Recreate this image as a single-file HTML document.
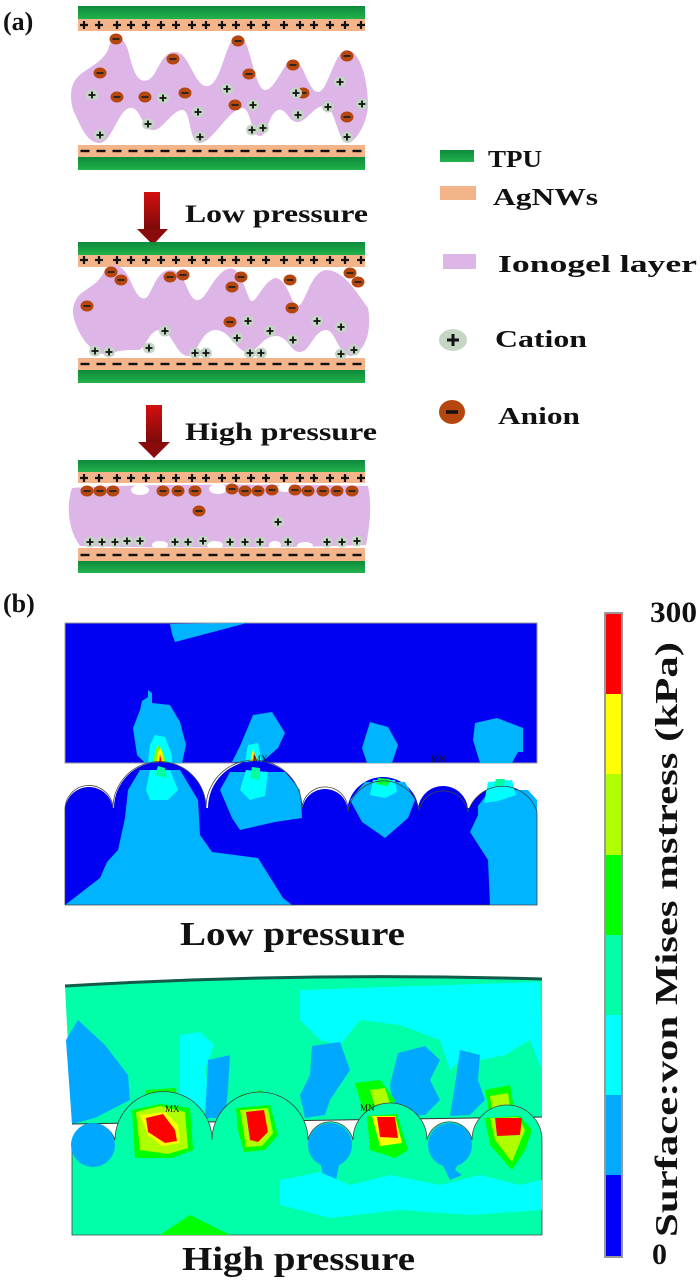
<!DOCTYPE html>
<html><head><meta charset="utf-8"><style>
html,body{margin:0;padding:0;background:#fff;}
svg{display:block;}
text{font-family:"Liberation Serif",serif;font-weight:bold;fill:#111;}
</style></head><body>
<svg width="700" height="1282" viewBox="0 0 700 1282" xmlns="http://www.w3.org/2000/svg">
<defs>
<linearGradient id="tpu" x1="0" y1="0" x2="0" y2="1"><stop offset="0" stop-color="#0d8a3a"/><stop offset="1" stop-color="#22b24c"/></linearGradient>
<linearGradient id="arr" x1="0" y1="0" x2="0" y2="1"><stop offset="0" stop-color="#d40f0f"/><stop offset="1" stop-color="#7a0a0a"/></linearGradient>
<g id="cat"><ellipse rx="6" ry="5.5" fill="#c5d6c6"/><path d="M-3.5 0H3.5M0 -3.5V3.5" stroke="#111" stroke-width="1.8"/></g>
<g id="an"><ellipse rx="6.5" ry="5.5" fill="#b5470e"/><path d="M-3.5 0H3.5" stroke="#222" stroke-width="1.8"/></g>
<g id="plus"><path d="M-4 0H4M0 -4V4" stroke="#111" stroke-width="2.2"/></g>
<g id="minus"><path d="M-4.5 0H4.5" stroke="#111" stroke-width="2.4"/></g>
<clipPath id="clipLow"><path d="M65 623H537V763H65Z"/></clipPath>
</defs>

<text x="3" y="30" font-size="26">(a)</text>

<!-- Panel 1 -->
<rect x="78" y="6" width="287" height="13" fill="url(#tpu)"/>
<rect x="78" y="19" width="287" height="12" fill="#f4b48a"/>
<path d="M74 82 C80 70 100 66 108 50 C112 34 122 32 128 50 C133 70 137 84 148 80 C158 76 160 52 175 52 C190 52 194 88 208 86 C222 84 226 36 238 35 C250 34 254 90 265 90 C276 90 284 60 293 60 C304 60 308 92 318 92 C328 92 334 52 346 50 C362 50 368 86 368 104 C368 122 356 142 348 143 C338 144 336 110 326 106 C314 104 306 124 296 122 C288 120 286 108 278 110 C268 114 268 136 260 136 C250 136 252 108 242 108 C228 110 212 143 200 143 C188 143 192 110 182 110 C172 110 162 132 152 130 C142 128 140 106 130 108 C118 110 112 142 100 143 C86 143 80 124 74 112 C70 102 70 90 74 82Z" fill="#ddb5e6"/>
<rect x="78" y="145" width="287" height="12" fill="#f4b48a"/>
<rect x="78" y="157" width="287" height="13" fill="url(#tpu)"/>
<g id="plusRow1">
<use href="#plus" x="84" y="25"/><use href="#plus" x="99" y="25"/><use href="#plus" x="117" y="25"/><use href="#plus" x="131" y="25"/><use href="#plus" x="146" y="25"/><use href="#plus" x="176" y="25"/><use href="#plus" x="192" y="25"/><use href="#plus" x="206" y="25"/><use href="#plus" x="222" y="25"/><use href="#plus" x="236" y="25"/><use href="#plus" x="251" y="25"/><use href="#plus" x="266" y="25"/><use href="#plus" x="284" y="25"/><use href="#plus" x="300" y="25"/><use href="#plus" x="314" y="25"/><use href="#plus" x="330" y="25"/><use href="#plus" x="345" y="25"/><use href="#plus" x="361" y="25"/><use href="#plus" x="161" y="25"/>
</g>
<g id="minusRow1">
<use href="#minus" x="85" y="151"/><use href="#minus" x="101" y="151"/><use href="#minus" x="117" y="151"/><use href="#minus" x="133" y="151"/><use href="#minus" x="149" y="151"/><use href="#minus" x="165" y="151"/><use href="#minus" x="181" y="151"/><use href="#minus" x="197" y="151"/><use href="#minus" x="213" y="151"/><use href="#minus" x="229" y="151"/><use href="#minus" x="245" y="151"/><use href="#minus" x="261" y="151"/><use href="#minus" x="277" y="151"/><use href="#minus" x="293" y="151"/><use href="#minus" x="309" y="151"/><use href="#minus" x="325" y="151"/><use href="#minus" x="341" y="151"/><use href="#minus" x="357" y="151"/>
</g>
<use href="#an" x="116" y="39"/><use href="#an" x="100" y="73"/><use href="#an" x="117" y="97"/><use href="#an" x="145" y="97"/><use href="#an" x="173" y="59"/><use href="#an" x="185" y="93"/><use href="#an" x="238" y="41"/><use href="#an" x="249" y="74"/><use href="#an" x="235" y="105"/><use href="#an" x="293" y="65"/><use href="#an" x="303" y="93"/><use href="#an" x="347" y="56"/><use href="#an" x="347" y="117"/>
<use href="#cat" x="92" y="95"/><use href="#cat" x="163" y="98"/><use href="#cat" x="198" y="112"/><use href="#cat" x="227" y="89"/><use href="#cat" x="253" y="105"/><use href="#cat" x="296" y="93"/><use href="#cat" x="298" y="115"/><use href="#cat" x="340" y="82"/><use href="#cat" x="328" y="107"/><use href="#cat" x="362" y="104"/><use href="#cat" x="100" y="135"/><use href="#cat" x="200" y="137"/><use href="#cat" x="252" y="130"/><use href="#cat" x="263" y="128"/><use href="#cat" x="347" y="137"/><use href="#cat" x="148" y="124"/>

<!-- Arrow 1 -->
<rect x="144" y="192" width="16" height="38" fill="url(#arr)"/>
<path d="M137 229H168L153 245Z" fill="#8a0b0b"/>
<text x="185" y="222" font-size="25" textLength="183" lengthAdjust="spacingAndGlyphs">Low pressure</text>

<!-- Panel 2 -->
<rect x="78" y="242" width="287" height="13" fill="url(#tpu)"/>
<rect x="78" y="255" width="287" height="12" fill="#f4b48a"/>
<path d="M76 300 C80 290 96 288 104 272 C110 262 122 262 130 280 C136 294 140 300 146 298 C152 294 156 270 170 270 C186 270 186 296 196 300 C206 302 210 280 225 270 C240 262 244 288 250 300 C256 306 262 282 275 278 C288 278 292 308 298 306 C306 304 310 272 326 270 C344 270 356 292 368 308 C372 330 366 350 352 356 C338 356 336 330 326 330 C314 330 310 352 300 352 C290 352 288 336 276 336 C262 336 258 352 248 352 C236 352 230 330 216 330 C200 330 198 356 188 356 C176 356 172 330 160 330 C148 330 146 350 138 350 C126 350 120 350 108 354 C94 356 82 340 76 325 C72 315 72 306 76 300Z" fill="#ddb5e6"/>
<rect x="78" y="358" width="287" height="12" fill="#f4b48a"/>
<rect x="78" y="370" width="287" height="13" fill="url(#tpu)"/>
<use href="#plusRow1" y="235"/>
<use href="#minusRow1" y="213"/>
<use href="#an" x="111" y="272"/><use href="#an" x="121" y="280"/><use href="#an" x="170" y="277"/><use href="#an" x="183" y="275"/><use href="#an" x="241" y="277"/><use href="#an" x="232" y="287"/><use href="#an" x="290" y="280"/><use href="#an" x="292" y="308"/><use href="#an" x="87" y="306"/><use href="#an" x="230" y="322"/><use href="#an" x="350" y="273"/><use href="#an" x="358" y="282"/>
<use href="#cat" x="95" y="351"/><use href="#cat" x="109" y="352"/><use href="#cat" x="149" y="348"/><use href="#cat" x="165" y="331"/><use href="#cat" x="195" y="353"/><use href="#cat" x="206" y="353"/><use href="#cat" x="248" y="321"/><use href="#cat" x="237" y="338"/><use href="#cat" x="270" y="331"/><use href="#cat" x="293" y="340"/><use href="#cat" x="317" y="321"/><use href="#cat" x="341" y="327"/><use href="#cat" x="341" y="354"/><use href="#cat" x="354" y="350"/><use href="#cat" x="250" y="353"/><use href="#cat" x="261" y="353"/>

<!-- Arrow 2 -->
<rect x="146" y="405" width="16" height="38" fill="url(#arr)"/>
<path d="M138 442H170L154 458Z" fill="#8a0b0b"/>
<text x="185" y="440" font-size="25" textLength="192" lengthAdjust="spacingAndGlyphs">High pressure</text>

<!-- Panel 3 -->
<rect x="78" y="460" width="287" height="12" fill="url(#tpu)"/>
<rect x="78" y="472" width="287" height="11" fill="#f4b48a"/>
<path d="M72 488 C120 484 300 484 368 486 C372 505 370 525 366 545 C300 548 140 548 80 546 C68 530 66 505 72 488Z" fill="#ddb5e6"/>
<ellipse cx="140" cy="490" rx="9" ry="5" fill="#fff"/><ellipse cx="218" cy="489" rx="9" ry="5" fill="#fff"/><ellipse cx="285" cy="488" rx="8" ry="4" fill="#fff"/>
<ellipse cx="160" cy="545" rx="8" ry="4" fill="#fff"/><ellipse cx="215" cy="545" rx="8" ry="4" fill="#fff"/><ellipse cx="275" cy="545" rx="6" ry="4" fill="#fff"/><ellipse cx="305" cy="546" rx="8" ry="4" fill="#fff"/>
<rect x="78" y="548" width="287" height="13" fill="#f4b48a"/>
<rect x="78" y="561" width="287" height="12" fill="url(#tpu)"/>
<use href="#plusRow1" y="453"/>
<use href="#minusRow1" y="404"/>
<use href="#an" x="87" y="491"/><use href="#an" x="100" y="491"/><use href="#an" x="113" y="491"/><use href="#an" x="163" y="491"/><use href="#an" x="178" y="491"/><use href="#an" x="195" y="491"/><use href="#an" x="232" y="489"/><use href="#an" x="245" y="491"/><use href="#an" x="258" y="491"/><use href="#an" x="272" y="490"/><use href="#an" x="295" y="490"/><use href="#an" x="308" y="491"/><use href="#an" x="323" y="491"/><use href="#an" x="337" y="491"/><use href="#an" x="352" y="491"/><use href="#an" x="199" y="511"/>
<use href="#cat" x="278" y="522"/>
<use href="#cat" x="90" y="542"/><use href="#cat" x="102" y="542"/><use href="#cat" x="115" y="542"/><use href="#cat" x="127" y="541"/><use href="#cat" x="140" y="541"/><use href="#cat" x="175" y="542"/><use href="#cat" x="188" y="542"/><use href="#cat" x="203" y="541"/><use href="#cat" x="230" y="542"/><use href="#cat" x="245" y="542"/><use href="#cat" x="260" y="542"/><use href="#cat" x="288" y="542"/><use href="#cat" x="327" y="542"/><use href="#cat" x="342" y="542"/><use href="#cat" x="357" y="541"/>

<!-- Legend -->
<rect x="440" y="150" width="34" height="12" fill="url(#tpu)"/>
<text x="488" y="167" font-size="24" textLength="54" lengthAdjust="spacingAndGlyphs">TPU</text>
<rect x="440" y="186" width="36" height="14" fill="#f4b48a"/>
<text x="493" y="205" font-size="24" textLength="105" lengthAdjust="spacingAndGlyphs">AgNWs</text>
<rect x="443" y="254" width="33" height="15" fill="#ddb5e6"/>
<text x="498" y="272" font-size="24" textLength="199" lengthAdjust="spacingAndGlyphs">Ionogel layer</text>
<ellipse cx="453" cy="340" rx="14" ry="11" fill="#c5d6c6"/><path d="M447 340H459M453 334V346" stroke="#111" stroke-width="3"/>
<text x="495" y="347" font-size="24" textLength="92" lengthAdjust="spacingAndGlyphs">Cation</text>
<ellipse cx="452" cy="412" rx="13" ry="12" fill="#b5470e"/><path d="M446 412H458" stroke="#111" stroke-width="3.5"/>
<text x="498" y="424" font-size="24" textLength="82" lengthAdjust="spacingAndGlyphs">Anion</text>

<!-- (b) -->
<text x="3" y="612" font-size="26">(b)</text>

<!-- Low pressure FEM top block -->
<rect x="65" y="623" width="472" height="140" fill="#0000f2" stroke="#999" stroke-width="1"/>
<g clip-path="url(#clipLow)">
<path d="M170 624L247 623L175 642L172 634Z" fill="#00b4ff"/>
<path d="M142 701L148 697L148 690L152 693L152 703L170 705L180 722L186 745L182 763H145L137 755L133 728L140 710Z" fill="#00b4ff"/>
<path d="M148 763L150 745L155 735L165 737L172 755L172 763Z" fill="#00ffff"/>
<path d="M153 763L155 752L158 745L163 752L166 763Z" fill="#80ff00"/>
<path d="M156 763L158 752L161 748L164 763Z" fill="#ffff00"/>
<path d="M159 763L160 754L162 763Z" fill="#ff0000"/>
<path d="M232 762L240 746L253 715L272 712L285 733L278 748L262 762Z" fill="#00b4ff"/>
<path d="M245 762L248 745L258 743L262 762Z" fill="#00ffff"/>
<path d="M250 762L253 749L258 762Z" fill="#ffff00"/>
<path d="M253 762L254 752L256 762Z" fill="#ff0000"/>
<path d="M362 748L370 722L388 727L398 745L392 763H367Z" fill="#00b4ff"/>
<path d="M473 740L475 723L497 718L523 728L523 752L518 752L512 763H480Z" fill="#00b4ff"/>
</g>
<text x="253" y="762" font-size="9" font-family="Liberation Sans" style="font-weight:normal" fill="#222">MX</text>
<text x="431" y="762" font-size="9" font-family="Liberation Sans" style="font-weight:normal" fill="#222">MN</text>

<!-- Low pressure bottom block -->
<g>
<rect x="65" y="808" width="472" height="97" fill="#0000f2"/>
<circle cx="89" cy="811" r="24" fill="#0000f2"/>
<circle cx="160" cy="808" r="46" fill="#0000f2"/>
<circle cx="255" cy="808" r="47" fill="#0000f2"/>
<circle cx="325" cy="812" r="23" fill="#0000f2"/>
<circle cx="383" cy="813" r="36" fill="#0000f2"/>
<circle cx="443" cy="811" r="25" fill="#0000f2"/>
<path d="M468 812A36 36 0 0 1 537 812V905H468Z" fill="#0000f2"/>
<path d="M65 905L100 878L107 862L118 850L125 818L128 790L140 770L180 770L198 800L200 835L212 852L258 858L283 898L292 905Z" fill="#00b4ff"/>
<path d="M220 790L230 772L285 772L300 790L302 818L275 822L240 830L232 818Z" fill="#00b4ff"/>
<path d="M350 800L365 782L405 782L415 800L408 818L385 838L362 822Z" fill="#00b4ff"/>
<path d="M478 806L490 790L528 790L537 800V860L528 850L537 842V905H490L488 860L470 832L478 815Z" fill="#00b4ff"/>
<path d="M146 790L150 770L170 770L178 790L168 800L150 800Z" fill="#00ffff"/>
<path d="M155 775L158 766L165 768L167 778Z" fill="#00ff9f"/>
<path d="M240 790L246 770L268 772L265 796L250 800Z" fill="#00ffff"/>
<path d="M250 778L252 767L260 768L260 780Z" fill="#00ff9f"/>
<path d="M370 795L373 780L395 780L397 792L385 798Z" fill="#00ffff"/>
<path d="M376 784L378 778L390 779L388 786Z" fill="#00ff33"/>
<path d="M484 803L488 782L512 780L516 795L498 801Z" fill="#00ffff"/>
<path d="M494 786L496 779L505 779L504 786Z" fill="#00ff9f"/>
</g>
<g fill="none" stroke="#444" stroke-width="0.8">
<path d="M65 905V811A24 24 0 0 1 113 808A46 46 0 0 1 206 808A47 47 0 0 1 302 808A23 23 0 0 1 348 812A36 36 0 0 1 419 810A25 25 0 0 1 468 812A36 36 0 0 1 537 812V905H65"/>
</g>
<text x="180" y="945" font-size="34" textLength="225" lengthAdjust="spacingAndGlyphs">Low pressure</text>

<!-- High pressure FEM -->
<path d="M65 986Q300 972 542 979V1117Q300 1120 72 1124Z" fill="#00ffa8"/>
<path d="M65 986Q300 972 542 979" fill="none" stroke="#135a4a" stroke-width="3"/>
<path d="M66 1040L78 1020L105 1045L128 1075L130 1100L95 1118L72 1124Z" fill="#00a8ff"/>
<path d="M300 990L540 982L542 1070L530 1040L505 1055L480 1060L470 1050L450 1070L440 1040L400 1025L360 1020L340 1045L320 1040L300 1020Z" fill="#00ffff"/>
<path d="M312 1046L340 1042L350 1070L330 1100L325 1115L305 1118L300 1095L310 1075Z" fill="#00a8ff"/>
<path d="M398 1053L425 1046L440 1060L430 1080L440 1100L425 1115L395 1117L390 1085Z" fill="#00a8ff"/>
<path d="M460 1050L480 1055L478 1080L485 1100L470 1115L450 1116L455 1085Z" fill="#00a8ff"/>
<path d="M180 1035L200 1032L214 1045L205 1070L210 1100L200 1118L180 1118Z" fill="#00ffff"/>
<path d="M208 1060L230 1055L228 1090L225 1118L205 1118Z" fill="#00a8ff"/>
<path d="M145 1090L175 1088L185 1120L150 1124Z" fill="#00ff00"/>
<path d="M150 1095L170 1094L176 1120L155 1122Z" fill="#b0ff00"/>
<path d="M240 1095L262 1090L272 1118H245Z" fill="#00ff00"/>
<path d="M245 1100L258 1096L265 1118H250Z" fill="#b0ff00"/>
<path d="M355 1083L380 1080L395 1100L392 1116L365 1117Z" fill="#00ff00"/>
<path d="M370 1090L385 1088L392 1110L378 1116Z" fill="#b0ff00"/>
<path d="M485 1090L510 1085L515 1115L490 1117Z" fill="#00ff00"/>
<path d="M490 1096L508 1093L511 1114L493 1116Z" fill="#b0ff00"/>
<path d="M72 1124Q300 1120 542 1117" fill="none" stroke="#333" stroke-width="1"/>

<path d="M72 1145V1148A22 22 0 0 1 115 1140A48 48 0 0 1 212 1140A48 48 0 0 1 308 1140A23 23 0 0 1 353 1140A37 37 0 0 1 427 1140A23 23 0 0 1 472 1140A35 35 0 0 1 542 1140V1235H72Z" fill="#00ffa8" stroke="#444" stroke-width="0.8"/>
<circle cx="93" cy="1145" r="22" fill="#00a8ff"/>
<circle cx="330" cy="1145" r="22" fill="#00a8ff"/>
<circle cx="450" cy="1145" r="22" fill="#00a8ff"/>
<path d="M320 1160L340 1160L335 1185L325 1185Z" fill="#00a8ff"/>
<path d="M440 1160L460 1160L455 1170L462 1175L450 1180Z" fill="#00a8ff"/>
<path d="M280 1180L320 1172L350 1185L390 1175L440 1185L480 1175L520 1185L542 1180V1210L470 1215L400 1210L330 1218L280 1205Z" fill="#00ffff"/>
<path d="M160 1235L190 1215L230 1235Z" fill="#00ff00"/>
<path d="M132 1110L160 1104L190 1108L193 1150L172 1158L135 1158Z" fill="#00ff00"/>
<path d="M136 1112L160 1106L185 1112L188 1148L168 1154L140 1150Z" fill="#b0ff00"/>
<path d="M140 1115L165 1112L178 1125L180 1143L162 1146L148 1135Z" fill="#ffff00"/>
<path d="M146 1118L163 1114L175 1130L177 1141L165 1143L148 1132Z" fill="#ff0000"/>
<path d="M236 1108L270 1105L278 1135L265 1150L244 1152L238 1130Z" fill="#00ff00"/>
<path d="M240 1110L268 1108L273 1133L262 1146L246 1147Z" fill="#b0ff00"/>
<path d="M246 1112L264 1110L268 1132L258 1142L250 1140Z" fill="#ff0000"/>
<path d="M367 1116L397 1114L408 1150L395 1158L370 1150Z" fill="#00ff00"/>
<path d="M372 1116L395 1116L402 1143L380 1146Z" fill="#ffff00"/>
<path d="M377 1117L395 1117L398 1138L380 1137Z" fill="#ff0000"/>
<path d="M485 1118L520 1116L532 1130L525 1150L512 1170L490 1145Z" fill="#00ff00"/>
<path d="M490 1118L518 1117L525 1130L512 1162L495 1140Z" fill="#b0ff00"/>
<path d="M495 1118L522 1118L520 1135L497 1136Z" fill="#ff0000"/>
<text x="165" y="1112" font-size="9" font-family="Liberation Sans" style="font-weight:normal" fill="#222">MX</text>
<text x="360" y="1111" font-size="9" font-family="Liberation Sans" style="font-weight:normal" fill="#222">MN</text>
<text x="182" y="1270" font-size="34" textLength="233" lengthAdjust="spacingAndGlyphs">High pressure</text>

<!-- Colorbar -->
<rect x="604" y="612" width="19" height="646" fill="#999"/>
<rect x="606" y="614" width="15" height="80" fill="#ff0000"/>
<rect x="606" y="694" width="15" height="80" fill="#ffff00"/>
<rect x="606" y="774" width="15" height="81" fill="#b0ff00"/>
<rect x="606" y="855" width="15" height="80" fill="#00ff00"/>
<rect x="606" y="935" width="15" height="80" fill="#00ffa8"/>
<rect x="606" y="1015" width="15" height="80" fill="#00ffff"/>
<rect x="606" y="1095" width="15" height="80" fill="#00aaff"/>
<rect x="606" y="1175" width="15" height="81" fill="#0000ff"/>
<text x="650" y="622" font-size="30" textLength="47" lengthAdjust="spacingAndGlyphs">300</text>
<text x="652" y="1264" font-size="30">0</text>
<text transform="translate(677 1237) rotate(-90)" x="0" y="0" font-size="32" textLength="595" lengthAdjust="spacingAndGlyphs">Surface:von Mises mstress (kPa)</text>
</svg>
</body></html>
